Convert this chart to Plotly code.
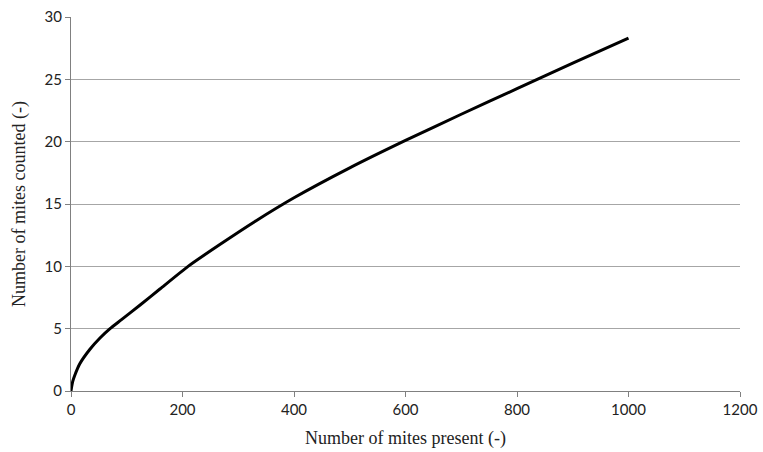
import plotly.graph_objects as go

mites_present = [0, 1, 3, 7, 16, 34, 52, 70, 90, 124, 160, 210, 267, 330, 400, 500, 600, 700, 800, 900, 1000]
mites_counted = [0, 0.3, 0.75, 1.28, 2.2, 3.35, 4.25, 5.0, 5.7, 6.9, 8.2, 10.0, 11.75, 13.6, 15.5, 17.9, 20.1, 22.2, 24.25, 26.3, 28.3]

fig = go.Figure()
fig.add_trace(go.Scatter(x=mites_present, y=mites_counted, mode="lines",
                         line=dict(color="black", width=3, shape="spline", smoothing=0.5),
                         showlegend=False))

fig.update_layout(
    width=763, height=452,
    margin=dict(l=71, r=23, t=17, b=61),
    plot_bgcolor="white", paper_bgcolor="white",
    font=dict(family="Lato, Open Sans, sans-serif", size=15, color="#222"),
)
fig.update_xaxes(
    range=[0, 1200], tickvals=[0, 200, 400, 600, 800, 1000, 1200],
    showgrid=False, showline=True, linecolor="#808080", linewidth=1,
    ticks="outside", ticklen=5, tickcolor="#808080", zeroline=False,
    automargin=False,
    title=dict(text="Number of mites present (-)",
               font=dict(family="Liberation Serif, Times New Roman, serif", size=18, color="#222"),
               standoff=14),
)
fig.update_yaxes(
    range=[0, 30], tickvals=[0, 5, 10, 15, 20, 25, 30],
    showgrid=True, gridcolor="#a6a6a6", gridwidth=1,
    showline=True, linecolor="#808080", linewidth=1,
    ticks="outside", ticklen=5, tickcolor="#808080", zeroline=False,
    automargin=False,
    title=dict(text="Number of mites counted (-)",
               font=dict(family="Liberation Serif, Times New Roman, serif", size=18, color="#222"),
               standoff=14),
)

fig.write_html("out.html", config={"displayModeBar": False},
               post_script="document.body.style.margin='0';")
